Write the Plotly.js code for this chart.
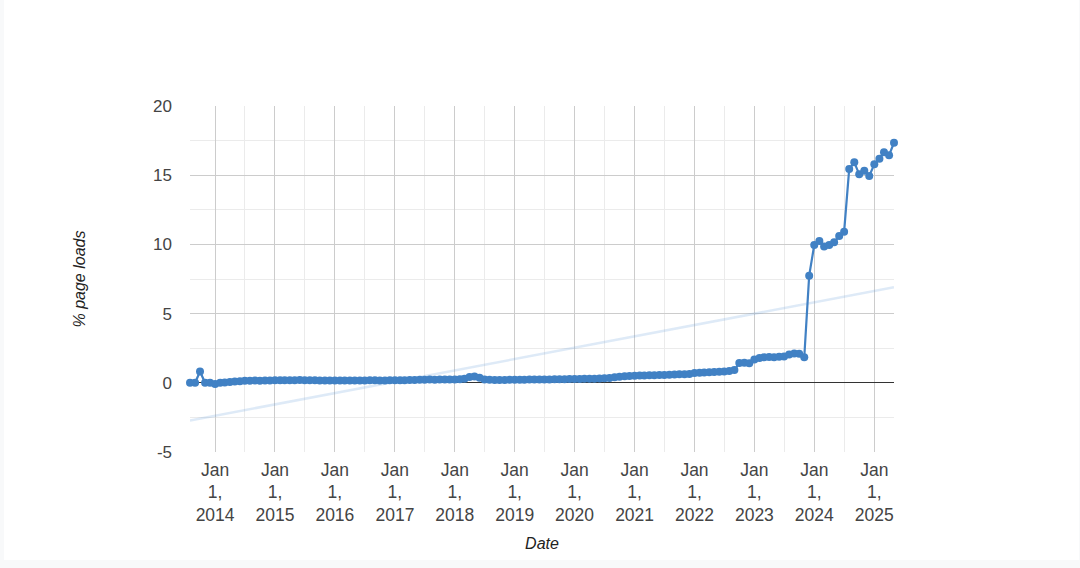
<!DOCTYPE html>
<html>
<head>
<meta charset="utf-8">
<script src="https://cdn.plot.ly/plotly-3.0.1.min.js"></script>
<style>
  html, body { margin: 0; padding: 0; background: #f8f9fa; }
  #chart { position: absolute; left: 4px; top: 0; width: 1075px; height: 560px; background: #fff; }
</style>
</head>
<body>
<div id="chart"></div>
<script>
// Monthly values, Aug 2013 .. May 2025
const startYear = 2013, startMonth = 8;
const values2013 = [0.0, 0.0, 0.82, 0.0, 0.0];
const values2014 = [-0.08, 0.0, 0.03, 0.06, 0.1, 0.12, 0.14, 0.15, 0.16, 0.15, 0.16, 0.17];
const values2015 = [0.18, 0.18, 0.19, 0.18, 0.19, 0.2, 0.19, 0.18, 0.18, 0.17, 0.17, 0.16];
const values2016 = [0.16, 0.16, 0.17, 0.17, 0.16, 0.17, 0.17, 0.18, 0.18, 0.17, 0.17, 0.18];
const values2017 = [0.18, 0.19, 0.19, 0.2, 0.21, 0.22, 0.22, 0.23, 0.22, 0.23, 0.24, 0.23];
const values2018 = [0.24, 0.25, 0.3, 0.42, 0.46, 0.36, 0.24, 0.22, 0.21, 0.21, 0.21, 0.22];
const values2019 = [0.22, 0.22, 0.22, 0.23, 0.23, 0.23, 0.24, 0.24, 0.25, 0.25, 0.26, 0.27];
const values2020 = [0.28, 0.28, 0.29, 0.3, 0.3, 0.31, 0.32, 0.35, 0.4, 0.44, 0.47, 0.5];
const values2021 = [0.51, 0.52, 0.53, 0.54, 0.55, 0.56, 0.57, 0.58, 0.6, 0.61, 0.62, 0.63];
const values2022 = [0.7, 0.72, 0.74, 0.76, 0.78, 0.8, 0.82, 0.85, 0.92, 1.43, 1.45, 1.42];
const values2023 = [1.68, 1.8, 1.84, 1.86, 1.85, 1.88, 1.9, 2.05, 2.12, 2.1, 1.85, 7.74];
const values2024 = [9.96, 10.25, 9.84, 9.96, 10.15, 10.6, 10.92, 15.45, 15.93, 15.06, 15.33, 14.94];
const values2025 = [15.79, 16.19, 16.65, 16.44, 17.35];

const yTickVals = [-5, 0, 5, 10, 15, 20];
const yTickText = ['-5', '0', '5', '10', '15', '20'];
const xTickVals = ['2014-01-01','2015-01-01','2016-01-01','2017-01-01','2018-01-01','2019-01-01',
                   '2020-01-01','2021-01-01','2022-01-01','2023-01-01','2024-01-01','2025-01-01'];
const xTickText = ['Jan<br>1,<br>2014','Jan<br>1,<br>2015','Jan<br>1,<br>2016','Jan<br>1,<br>2017',
                   'Jan<br>1,<br>2018','Jan<br>1,<br>2019','Jan<br>1,<br>2020','Jan<br>1,<br>2021',
                   'Jan<br>1,<br>2022','Jan<br>1,<br>2023','Jan<br>1,<br>2024','Jan<br>1,<br>2025'];

const values = [].concat(values2013, values2014, values2015, values2016, values2017, values2018,
  values2019, values2020, values2021, values2022, values2023, values2024, values2025);

function pad(n) { return (n < 10 ? '0' : '') + n; }
const dates = values.map((v, i) => {
  const mi = startMonth - 1 + i;
  const y = startYear + Math.floor(mi / 12);
  const m = (mi % 12) + 1;
  return y + '-' + pad(m) + '-01';
});

// Linear trendline (least squares on time)
const ts = dates.map(d => Date.parse(d + 'T00:00:00Z'));
const n = ts.length;
const mx = ts.reduce((a, b) => a + b, 0) / n;
const my = values.reduce((a, b) => a + b, 0) / n;
let sxy = 0, sxx = 0;
for (let i = 0; i < n; i++) { sxy += (ts[i] - mx) * (values[i] - my); sxx += (ts[i] - mx) * (ts[i] - mx); }
const slope = sxy / sxx, icpt = my - slope * mx;
const trendX = [dates[0], dates[n - 1]];
const trendY = [icpt + slope * ts[0], icpt + slope * ts[n - 1]];

const font = "Arial, 'Liberation Sans', sans-serif";
const lineColor = '#4181c4';

const traces = [
  { x: trendX, y: trendY, type: 'scatter', mode: 'lines',
    line: { color: 'rgba(90,150,215,0.2)', width: 2.5 }, hoverinfo: 'skip', showlegend: false },
  { x: dates, y: values, type: 'scatter', mode: 'lines+markers', cliponaxis: false,
    line: { color: lineColor, width: 2.2 },
    marker: { color: lineColor, size: 8 }, showlegend: false }
];

const layout = {
  width: 1075, height: 560,
  margin: { l: 185.5, r: 184.5, t: 106, b: 108 },
  paper_bgcolor: '#ffffff', plot_bgcolor: '#ffffff',
  font: { family: font, size: 17, color: '#444' },
  showlegend: false,
  xaxis: {
    type: 'date',
    range: [dates[0], dates[n - 1]],
    tickvals: xTickVals, ticktext: xTickText,
    showgrid: true, gridcolor: '#cccccc', gridwidth: 1,
    minor: { dtick: 'M6', tick0: '2014-01-01', showgrid: true, gridcolor: '#ebebeb', ticks: '' },
    ticks: '', zeroline: false, showline: false,
    ticklabelstandoff: 5,
    tickfont: { family: font, size: 17.5, color: '#444' },
    title: { text: '<i>Date</i>', font: { family: font, size: 16, color: '#222' }, standoff: 13 }
  },
  yaxis: {
    range: [-5, 20],
    tickvals: yTickVals, ticktext: yTickText,
    showgrid: true, gridcolor: '#cccccc', gridwidth: 1,
    minor: { dtick: 2.5, tick0: 0, showgrid: true, gridcolor: '#ebebeb', ticks: '' },
    zeroline: true, zerolinecolor: '#333333', zerolinewidth: 1,
    ticks: '', showline: false,
    ticklabelstandoff: 17,
    tickfont: { family: font, size: 17, color: '#444' },
    title: { text: '<i>% page loads</i>', font: { family: font, size: 16, color: '#222' }, standoff: 63 }
  }
};

Plotly.newPlot('chart', traces, layout, { displayModeBar: false, staticPlot: true });
</script>
</body>
</html>
